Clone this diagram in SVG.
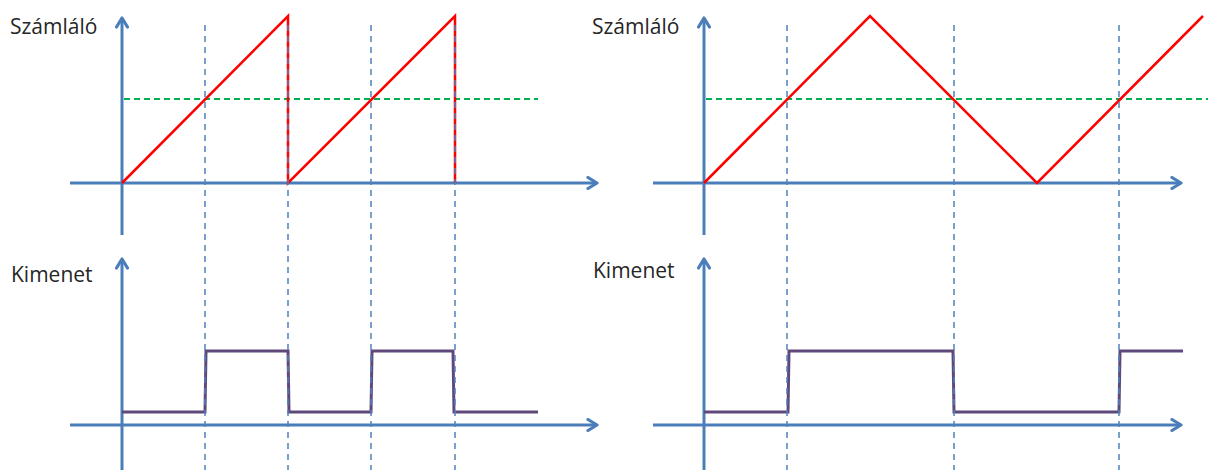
<svg xmlns="http://www.w3.org/2000/svg" width="1208" height="470" viewBox="0 0 1208 470">
<style>
.axis{stroke:#4a7ebb;stroke-width:3;fill:none}
.grid{stroke:#4f81bd;stroke-width:1.5;stroke-dasharray:6 5;fill:none}
.th{stroke:#00b050;stroke-width:2;stroke-dasharray:6 4;fill:none}
.cnt{stroke:#ff0000;stroke-width:2.5;fill:none;stroke-linejoin:miter}
.out{stroke:#5f497a;stroke-width:3;fill:none;stroke-linejoin:miter}
.lbl{font-family:"Open Sans","Noto Sans","Liberation Sans",sans-serif;font-size:21px;fill:#262626}
</style>
<defs>
<marker id="arr" viewBox="0 0 14 14" refX="12" refY="7" markerWidth="14" markerHeight="14" markerUnits="userSpaceOnUse" orient="auto">
<path d="M3,1.5 L12,7 L3,12.5" fill="none" stroke="#4a7ebb" stroke-width="3.2" stroke-linecap="round" stroke-linejoin="round"/>
</marker>
</defs>
<g id="left-counter">
<text class="lbl" x="10" y="34">Számláló</text>
<line class="axis" x1="70" y1="183" x2="597" y2="183" marker-end="url(#arr)"/>
<line class="axis" x1="122" y1="235" x2="122" y2="18" marker-end="url(#arr)"/>
<line class="th" x1="124" y1="99" x2="538" y2="99"/>
<polyline class="cnt" points="122,183 288,16 288,183 455,16 455,183"/>
</g>
<g id="right-counter">
<text class="lbl" x="592" y="34">Számláló</text>
<line class="axis" x1="653" y1="183" x2="1181" y2="183" marker-end="url(#arr)"/>
<line class="axis" x1="704" y1="235" x2="704" y2="18" marker-end="url(#arr)"/>
<line class="th" x1="706" y1="99" x2="1208" y2="99"/>
<polyline class="cnt" points="704,183 870,16 1037,183 1203,16"/>
</g>
<g id="left-output">
<text class="lbl" x="11" y="282">Kimenet</text>
<line class="axis" x1="70" y1="425" x2="597" y2="425" marker-end="url(#arr)"/>
<line class="axis" x1="122" y1="470" x2="122" y2="259" marker-end="url(#arr)"/>
<polyline class="out" points="122,412 205,412 206,351 288,351 289,412 371,412 372,351 453,351 454,412 538,412"/>
</g>
<g id="right-output">
<text class="lbl" x="593" y="278">Kimenet</text>
<line class="axis" x1="653" y1="425" x2="1181" y2="425" marker-end="url(#arr)"/>
<line class="axis" x1="704" y1="470" x2="704" y2="259" marker-end="url(#arr)"/>
<polyline class="out" points="704,412 788,412 789,351 953,351 954,412 1119,412 1120,351 1183,351"/>
</g>
<g id="connectors">
<line class="grid" x1="205" y1="25" x2="205" y2="470"/>
<line class="grid" x1="288" y1="25" x2="288" y2="470"/>
<line class="grid" x1="371" y1="25" x2="371" y2="470"/>
<line class="grid" x1="455" y1="25" x2="455" y2="470"/>
<line class="grid" x1="787" y1="25" x2="787" y2="470"/>
<line class="grid" x1="954" y1="25" x2="954" y2="470"/>
<line class="grid" x1="1119" y1="25" x2="1119" y2="470"/>
</g>
</svg>
